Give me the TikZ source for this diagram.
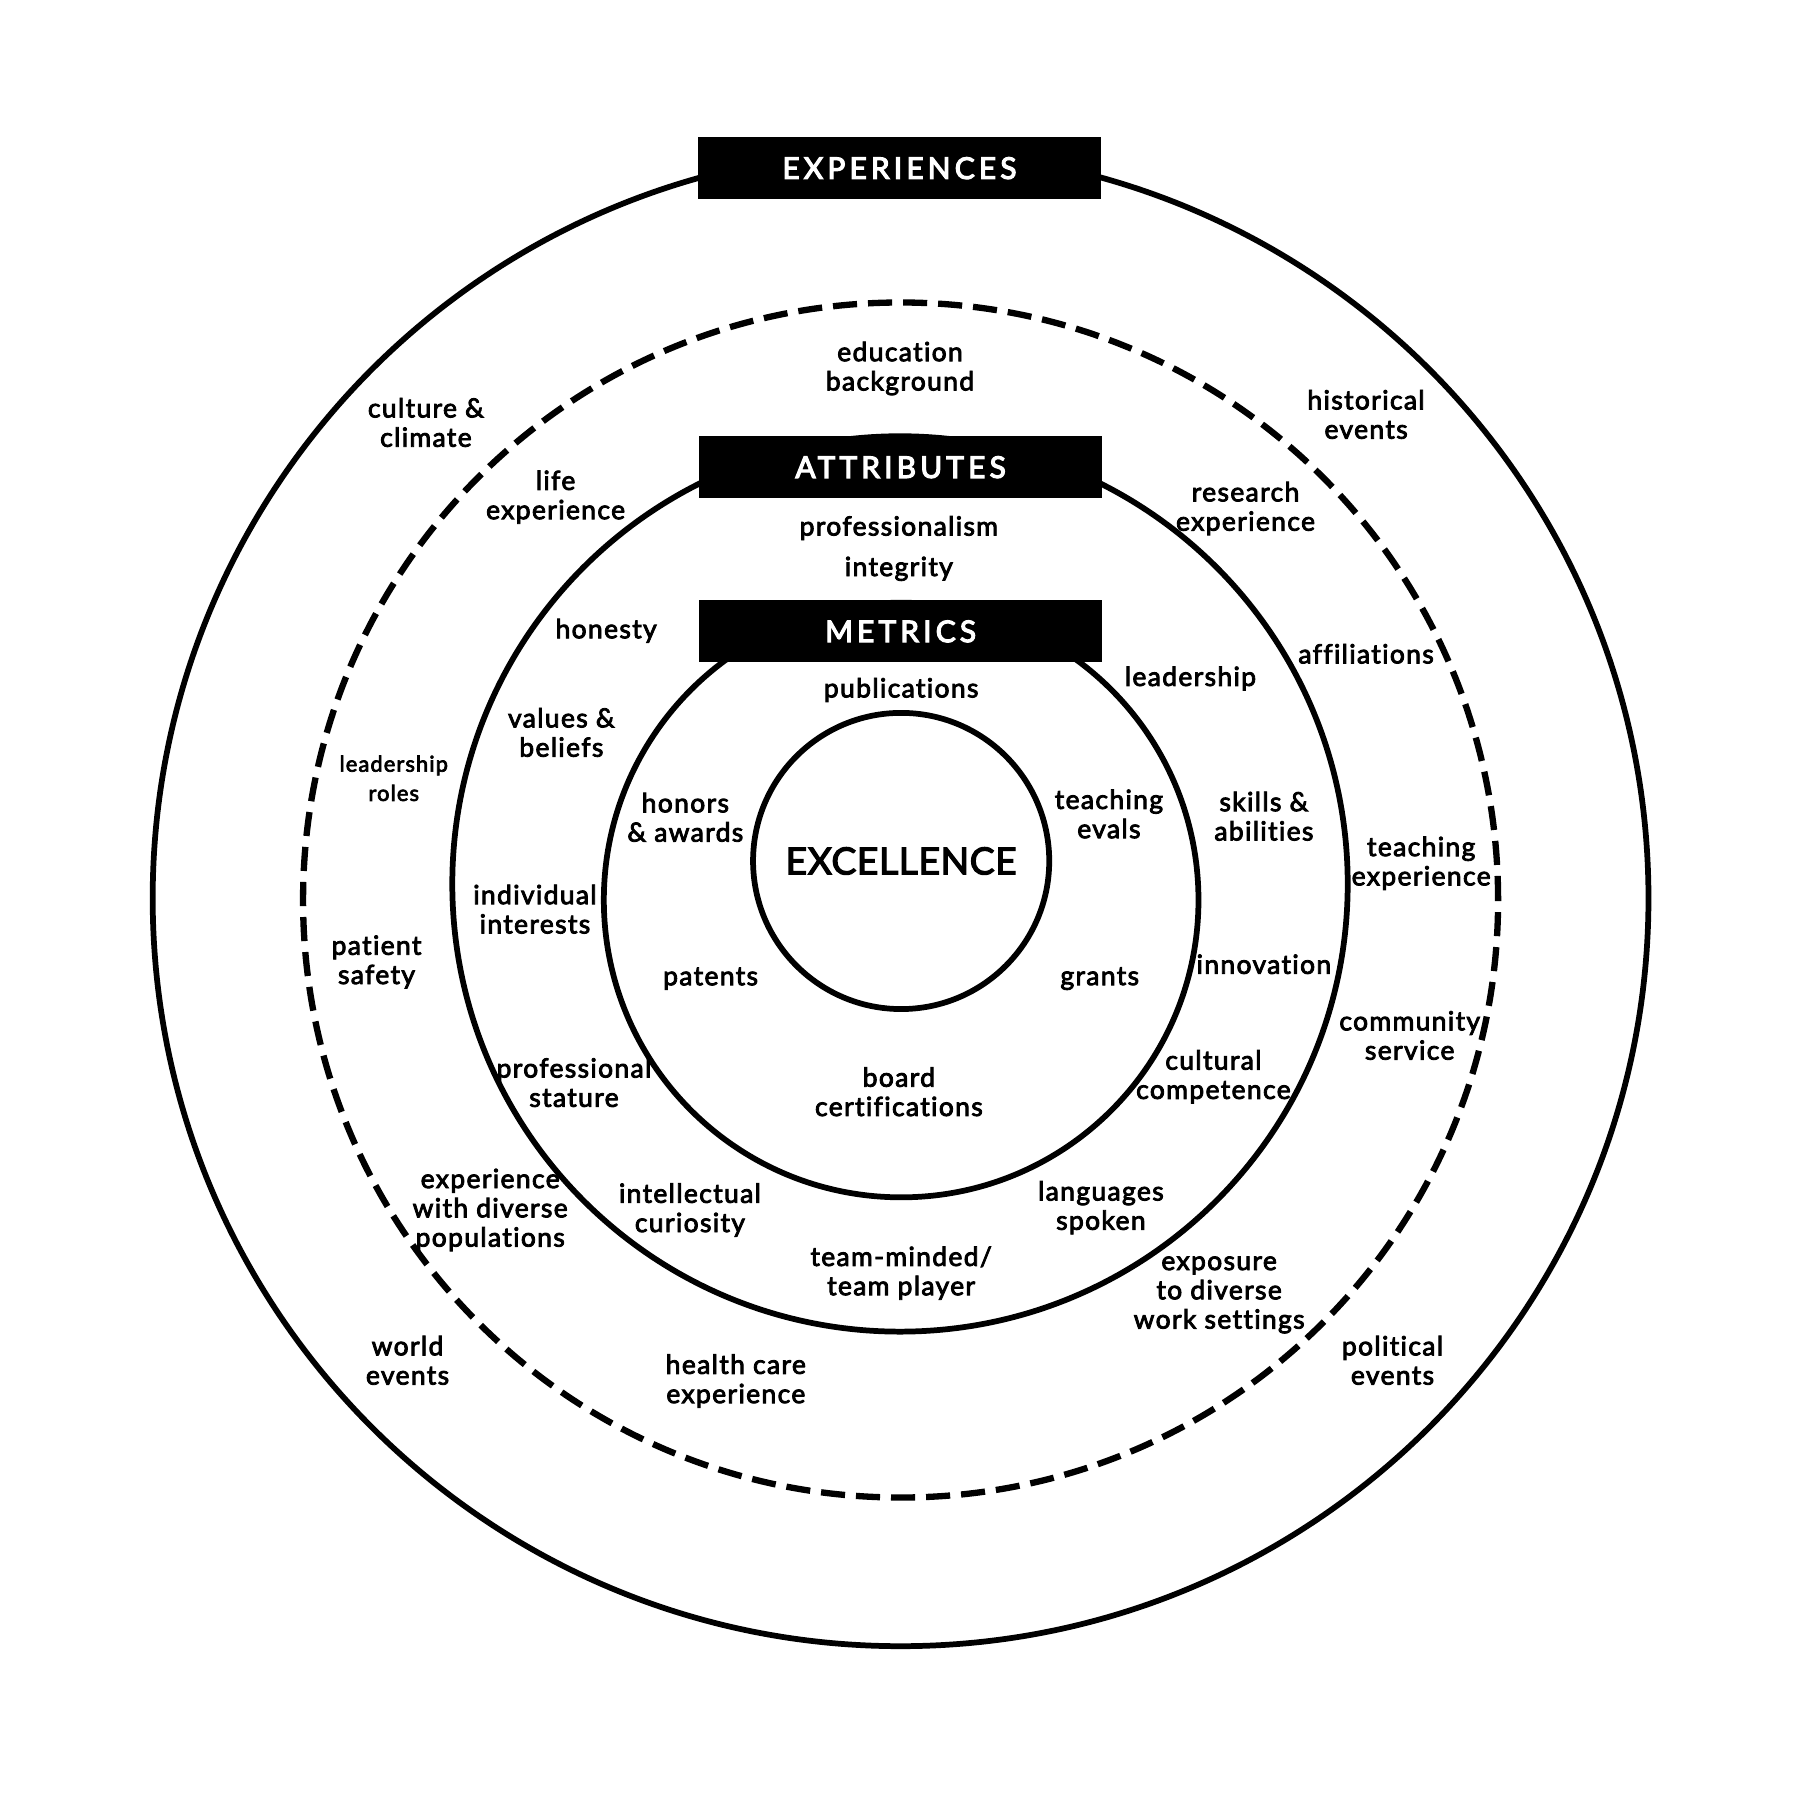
\documentclass[tikz,border=0pt]{standalone}
\usepackage{fontspec}
\setmainfont{Lato}
\newfontfamily\bodyfont{Lato}[FakeBold=3.2,LetterSpace=5.2,Ligatures=NoCommon]
\newfontfamily\capfont{Lato}[FakeBold=4,LetterSpace=14,Ligatures=NoCommon]
\newfontfamily\excfont{Lato}[FakeBold=3.2,LetterSpace=1.5,Ligatures=NoCommon]
\begin{document}
\begin{tikzpicture}[x=1pt,y=-1pt,
  ring/.style={line width=5pt},
  dring/.style={line width=5.5pt,dash pattern=on 21pt off 9.56pt},
  lbl/.style={font=\bodyfont\fontsize{23}{25.5}\selectfont,align=center,inner sep=0pt},
  small/.style={font=\bodyfont\fontsize{19}{25.5}\selectfont,align=center,inner sep=0pt},
  hdr/.style={fill=black,text=white,minimum width=351pt,minimum height=54pt,inner sep=0pt,
    font=\capfont\fontsize{26}{30}\selectfont},
  exc/.style={font=\excfont\fontsize{32.5}{36}\selectfont,inner sep=0pt}]
\useasboundingbox (0,0) rectangle (1568,1568);
\fill[white] (0,0) rectangle (1568,1568);
% rings
\draw[ring] (784.5,782.5) circle[radius=651.5pt];
\draw[dring] (784.5,784) circle[radius=520.5pt];
\draw[ring] (784,770) circle[radius=390pt];
\draw[ring] (785,784) circle[radius=259pt];
\draw[ring] (785,750) circle[radius=129pt];
% headers
\node[hdr] (hexp) at (783.5,146.5) {EXPERIENCES};
\node[hdr] (hatt) at (784.5,407) {ATTRIBUTES};
\node[hdr] (hmet) at (784.5,550) {METRICS};
\node[exc] (exc) at (785,750) {EXCELLENCE};
% experiences ring
\node[lbl] (edu) at (784,321) {education\\background};
\node[lbl] (cult) at (371,368) {culture \&\\climate};
\node[lbl] (hist) at (1190,361) {historical\\events};
\node[lbl] (life) at (484,433) {life\\experience};
\node[lbl] (res) at (1085,443) {research\\experience};
\node[lbl] (aff) at (1190,569.5) {affiliations};
\node[small] (lroles) at (343,678) {leadership\\roles};
\node[lbl] (texp) at (1238,752) {teaching\\experience};
\node[lbl] (pat) at (328,838) {patient\\safety};
\node[lbl] (comm) at (1228,902) {community\\service};
\node[lbl] (divpop) at (427,1054) {experience\\with diverse\\populations};
\node[lbl] (expo) at (1062,1128) {exposure\\to diverse\\work settings};
\node[lbl] (world) at (355,1185) {world\\events};
\node[lbl] (polit) at (1213,1185) {political\\events};
\node[lbl] (health) at (641,1203) {health care\\experience};
% attributes ring
\node[lbl] (prof) at (783,460) {professionalism};
\node[lbl] (integ) at (783,495.5) {integrity};
\node[lbl] (hon) at (528,549.5) {honesty};
\node[lbl] (lead) at (1037,591) {leadership};
\node[lbl] (val) at (489,638) {values \&\\beliefs};
\node[lbl] (skills) at (1101,711) {skills \&\\abilities};
\node[lbl] (indiv) at (466,792) {individual\\interests};
\node[lbl] (innov) at (1101,840) {innovation};
\node[lbl] (cultc) at (1057,938) {cultural\\competence};
\node[lbl] (profst) at (500,943) {professional\\stature};
\node[lbl] (intel) at (601,1054) {intellectual\\curiosity};
\node[lbl] (lang) at (959,1052) {languages\\spoken};
\node[lbl] (team) at (785,1109) {team-minded/\\team player};
% metrics ring
\node[lbl] (pub) at (785,601) {publications};
\node[lbl] (honors) at (597,712) {honors\\\& awards};
\node[lbl] (teval) at (966,709) {teaching\\evals};
\node[lbl] (patents) at (619,852.5) {patents};
\node[lbl] (grants) at (958,852.5) {grants};
\node[lbl] (board) at (783,951) {board\\certifications};
\end{tikzpicture}
\end{document}
